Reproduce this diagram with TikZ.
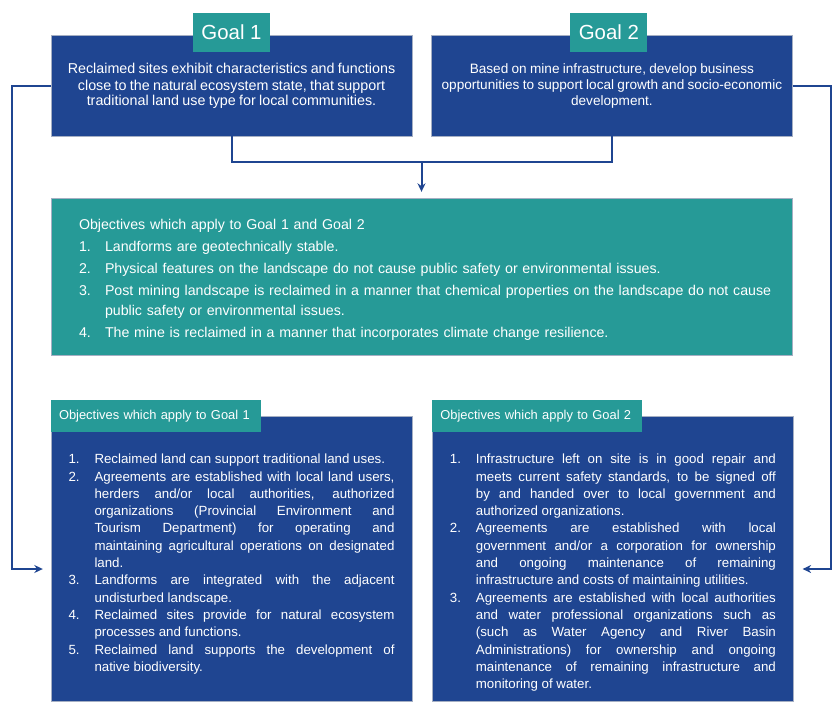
\documentclass[tikz,border=0pt]{standalone}
\usepackage{fontspec}
\setmainfont{Liberation Sans}
\usepackage{enumitem}
\usetikzlibrary{positioning}
\usetikzlibrary{arrows.meta}

\definecolor{goalblue}{RGB}{31,69,145}
\definecolor{goalteal}{RGB}{38,154,151}
\definecolor{boxedge}{RGB}{165,175,195}

\begin{document}
\begin{tikzpicture}[x=1pt,y=-1pt,
      goalblock/.style={draw=boxedge,fill=goalblue,text=white,minimum width=361pt,minimum height=101pt,
                        text width=355pt,inner xsep=3pt,align=center},
      goaltab/.style={fill=goalteal,text=white,minimum width=77pt,minimum height=39pt,inner sep=0pt,
                      font=\fontsize{20.4}{24}\selectfont},
      commonblock/.style={draw=boxedge,fill=goalteal,text=white,minimum width=741pt,minimum height=157pt,
                          text width=685pt,inner xsep=28pt,text height=16pt,align=left,
                          font=\fontsize{14.2}{20}\selectfont},
      objblock/.style={draw=boxedge,fill=goalblue,text=white,minimum width=361pt,inner xsep=14pt,inner ysep=30pt,
                       text height=17.5pt,text depth=207.5pt,
                       font=\fontsize{13.3}{17.3}\selectfont},
      objtab/.style={fill=goalteal,text=white,text width=194pt,inner xsep=8pt,inner ysep=0pt,
                     minimum width=210pt,minimum height=32pt,align=left,font=\fontsize{12.9}{16}\selectfont},
      link/.style={draw=goalblue,line width=2pt},
      linkarrow/.style={link,-{Stealth[length=8.5pt,width=8pt]}}]
    \useasboundingbox (0,0) rectangle (835,702);

    % Goals
    \node[goalblock]                  (goalone) at (231.5,85.5)
      {\fontsize{14.3}{17.3}\selectfont Reclaimed sites exhibit characteristics and functions\\
       close to the natural ecosystem state, that support\\
       traditional land use type for local communities.};
    \node[goalblock,right=19pt of goalone] (goaltwo)
      {\fontsize{13.6}{16}\selectfont Based on mine infrastructure, develop business\\
       opportunities to support local growth and socio-economic\\
       development.\\[2pt]};
    \node[goaltab,above=-17pt of goalone.north] (goalonetab) {Goal 1};
    \node[goaltab,above=-17pt of goaltwo.north,xshift=-3pt] (goaltwotab) {Goal 2};

    % Common objectives
    \node[commonblock] (common) at (421.5,276.5) {Objectives which apply to Goal 1 and Goal 2
      \begin{enumerate}[nosep,topsep=2pt,itemsep=2pt,leftmargin=26pt,rightmargin=-20pt,labelwidth=26pt,labelsep=0pt,align=left]
        \item Landforms are geotechnically stable.
        \item Physical features on the landscape do not cause public safety or environmental issues.
        \item Post mining landscape is reclaimed in a manner that chemical properties on the landscape do not cause\newline
              public safety or environmental issues.
        \item The mine is reclaimed in a manner that incorporates climate change resilience.
      \end{enumerate}};

    % Goal objectives
    \node[objblock,anchor=north] (objone) at (231.5,416) {\begin{minipage}[t]{333pt}\sloppy
      \begin{enumerate}[nosep,leftmargin=26pt,rightmargin=7pt,labelwidth=26pt,labelsep=0pt,align=left]
        \item Reclaimed land can support traditional land uses.
        \item Agreements are established with local land users,\linebreak
              herders and/or local authorities, authorized\linebreak
              organizations (Provincial Environment and\linebreak
              Tourism Department) for operating and\linebreak
              maintaining agricultural operations on designated\linebreak
              land.
        \item Landforms are integrated with the adjacent\linebreak
              undisturbed landscape.
        \item Reclaimed sites provide for natural ecosystem\linebreak
              processes and functions.
        \item Reclaimed land supports the development of\linebreak
              native biodiversity.
      \end{enumerate}\end{minipage}};
    \node[objblock,right=20pt of objone] (objtwo) {\begin{minipage}[t]{333pt}\sloppy
      \begin{enumerate}[nosep,leftmargin=26pt,rightmargin=7pt,labelwidth=26pt,labelsep=0pt,align=left]
        \item Infrastructure left on site is in good repair and\linebreak
              meets current safety standards, to be signed off\linebreak
              by and handed over to local government and\linebreak
              authorized organizations.
        \item Agreements are established with local\linebreak
              government and/or a corporation for ownership\linebreak
              and ongoing maintenance of remaining\linebreak
              infrastructure and costs of maintaining utilities.
        \item Agreements are established with local authorities\linebreak
              and water professional organizations such as\linebreak
              (such as Water Agency and River Basin\linebreak
              Administrations) for ownership and ongoing\linebreak
              maintenance of remaining infrastructure and\linebreak
              monitoring of water.
      \end{enumerate}\end{minipage}};
    \node[objtab,above right=-16pt and 0pt of objone.north west] (objonetab) {Objectives which apply to Goal 1};
    \node[objtab,above right=-16pt and 0pt of objtwo.north west] (objtwotab) {Objectives which apply to Goal 2};

    % Arrows
    \coordinate (join)      at (421.5,162);
    \coordinate (leftbend)  at (12,569);
    \coordinate (rightbend) at (831,569);
    \draw[link]                      (goalone.south) |- (join) -| (goaltwo.south);
    \draw[linkarrow,shorten >=6pt]   (join) -- (common.north);
    \draw[linkarrow,shorten >=8pt]   (goalone.west) -| (leftbend) -- (objone.west |- leftbend);
    \draw[linkarrow,shorten >=9pt]   (goaltwo.east) -| (rightbend) -- (objtwo.east |- rightbend);

  \end{tikzpicture}
\end{document}
